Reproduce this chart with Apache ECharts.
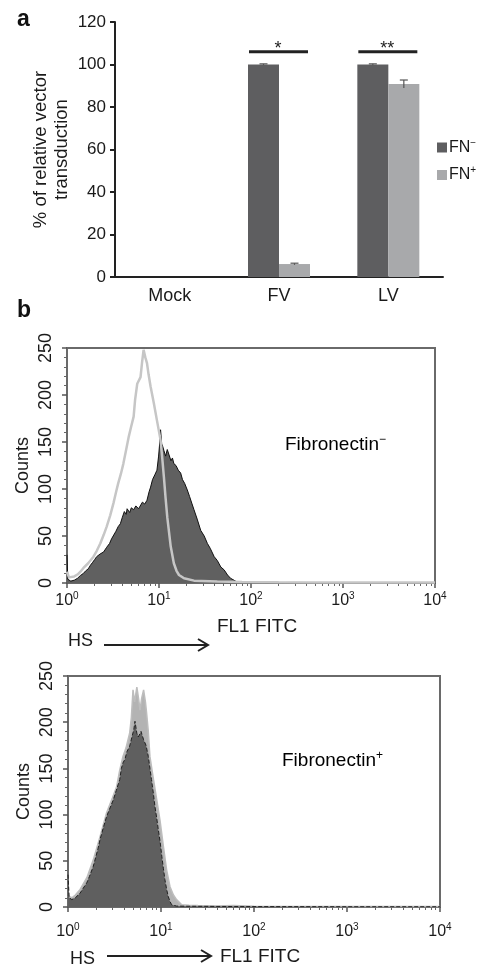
<!DOCTYPE html>
<html>
<head>
<meta charset="utf-8">
<script src="https://cdn.jsdelivr.net/npm/echarts@6/dist/echarts.min.js"></script>
<style>
html, body { margin: 0; padding: 0; background: #fff; }
#chart { width: 479px; height: 968px; }
</style>
</head>
<body>
<div id="chart"></div>
<script>
// panel a: relative vector transduction
var categories = ['Mock', 'FV', 'LV'];
var fnMinus = [0, 100, 100];
var fnPlus = [0, 6.1, 90.8];
var fnMinusErr = [0, 0.3, 0.3];
var fnPlusErr = [0, 0.4, 1.9];
var sigCats = [1, 2];
var sigLevel = [106, 106];
var sigMarks = ['*', '**'];
var yTicksA = [0, 120, 20];

// panel b: FL1 FITC histograms [fluorescence, counts]
var topDark = [
  [1.00, 30], [1.02, 4], [1.1, 2], [1.2, 3], [1.3, 5], [1.4, 8], [1.5, 10], [1.6, 13], [1.7, 15],
  [1.8, 19], [1.9, 22], [2.0, 25], [2.1, 28], [2.2, 27], [2.3, 31], [2.5, 33], [2.7, 38], [2.9, 42],
  [3.05, 47], [3.2, 49], [3.4, 55], [3.6, 60], [3.8, 63], [4.0, 70], [4.2, 76], [4.4, 73], [4.5, 79],
  [4.8, 75], [5.0, 80], [5.3, 78], [5.6, 82], [6.0, 79], [6.3, 81], [6.6, 86], [7.0, 84], [7.4, 88],
  [7.8, 97], [8.1, 102], [8.5, 110], [9.0, 115], [9.5, 120], [9.9, 135], [10.2, 150], [10.4, 163],
  [10.7, 148], [11.0, 145], [11.3, 141], [11.8, 135], [12.3, 142], [12.8, 140], [13.5, 130],
  [14.0, 133], [14.5, 127], [15.3, 125], [16.2, 120], [17.2, 117], [18.0, 110], [19.0, 106],
  [20.3, 99], [21.5, 92], [22.7, 85], [24, 78], [26, 68], [28.4, 56], [31, 50], [33.6, 42], [36, 37],
  [39.8, 28], [43, 24], [47, 17], [51, 14], [55.6, 8.5], [60, 5], [63, 3], [68, 2], [72, 0.8],
  [80, 0.5], [100, 0.8], [150, 0.4], [300, 0.6], [1000, 0.3], [3000, 0.5], [10000, 0.3]
];
var topLight = [
  [1.0, 12], [1.05, 6], [1.1, 5], [1.2, 7], [1.3, 9], [1.4, 12], [1.51, 16], [1.7, 21], [1.94, 28],
  [2.1, 34], [2.3, 42], [2.5, 51], [2.7, 60], [2.95, 72], [3.2, 85], [3.4, 96], [3.6, 106],
  [3.85, 116], [4.1, 127], [4.4, 142], [4.7, 156], [5.0, 167], [5.3, 177], [5.5, 195], [5.8, 212],
  [6.0, 210], [6.3, 219], [6.55, 235], [6.8, 248], [7.1, 240], [7.4, 234], [7.7, 222], [8.1, 209],
  [8.8, 191], [9.5, 173], [10.4, 152], [10.8, 135], [11.3, 113], [11.8, 90], [12.3, 70], [13.4, 39],
  [14.5, 21], [15.5, 13], [16.5, 8.5], [18.7, 5], [24, 2.5], [43, 1.5], [80, 1], [200, 0.7],
  [1000, 0.5], [10000, 0.4]
];
var botDark = [
  [1.0, 35], [1.03, 10], [1.1, 8], [1.2, 10], [1.35, 15], [1.45, 20], [1.59, 26], [1.7, 33],
  [1.87, 44], [2.0, 55], [2.1, 63], [2.21, 73], [2.4, 86], [2.6, 98], [2.8, 106], [3.07, 116],
  [3.3, 126], [3.6, 138], [3.75, 150], [3.9, 156], [4.1, 160], [4.3, 168], [4.6, 174], [4.9, 185],
  [5.1, 192], [5.25, 201], [5.5, 188], [5.7, 184], [6.1, 190], [6.5, 181], [6.9, 175], [7.3, 163],
  [7.6, 150], [7.9, 138], [8.3, 122], [8.6, 109], [9.0, 96], [9.35, 84], [9.8, 70], [10.2, 55],
  [10.6, 42], [11.0, 30], [11.5, 19], [12.0, 11], [12.5, 6], [13.0, 2.5], [14.7, 1], [20, 0.8],
  [60, 0.5], [1000, 0.3], [10000, 0.3]
];
var botLight = [
  [1.0, 12], [1.1, 10], [1.2, 13], [1.35, 19], [1.6, 32], [1.87, 51], [2.21, 76], [2.6, 102],
  [3.0, 118], [3.33, 130], [3.6, 148], [3.9, 163], [4.2, 172], [4.6, 188], [4.8, 205], [5.0, 235],
  [5.2, 222], [5.5, 238], [5.75, 225], [5.95, 213], [6.2, 226], [6.5, 235], [6.8, 222], [7.0, 210],
  [7.3, 190], [7.6, 163], [8.3, 138], [9.0, 116], [9.75, 94], [10.6, 66], [11.5, 40], [12.5, 22],
  [13.6, 13], [14.7, 8], [16.7, 2.5], [20, 2], [25, 1.5], [40, 1], [60, 1.5], [100, 0.7],
  [1000, 0.5], [10000, 0.6]
];
var xRangeB = [1, 10000];
var yTicksB = [0, 250, 50];

var font = 'Liberation Sans, Arial, sans-serif';
var txt = '#1a1a1a';
function supRich(size) {
  return {
    b: { fontSize: size, fontFamily: font, color: txt, lineHeight: size + 3 },
    s: { fontSize: Math.round(size * 0.65), fontFamily: font, color: txt, verticalAlign: 'top', lineHeight: Math.round(size * 0.65) }
  };
}

function errRender(offset) {
  return function (params, api) {
    var i = api.value(0), v = api.value(1), e = api.value(2);
    if (!e) return null;
    var hi = api.coord([i, v + e]);
    var lo = api.coord([i, v - e]);
    var x = hi[0] + offset;
    var st = { stroke: '#555', lineWidth: 1.2 };
    return {
      type: 'group',
      children: [
        { type: 'line', shape: { x1: x, y1: hi[1], x2: x, y2: lo[1] }, style: st },
        { type: 'line', shape: { x1: x - 4, y1: hi[1], x2: x + 4, y2: hi[1] }, style: st }
      ]
    };
  };
}

function sigRender(params, api) {
  var p = api.coord([api.value(0), api.value(1)]);
  return {
    type: 'group',
    children: [
      { type: 'line', shape: { x1: p[0] - 30, y1: p[1], x2: p[0] + 29, y2: p[1] },
        style: { stroke: '#222', lineWidth: 3 } },
      { type: 'text', x: p[0] - 1, y: p[1] - 3,
        style: { text: sigMarks[params.dataIndex], fill: '#222', font: '18px ' + font,
                 textAlign: 'center', textVerticalAlign: 'middle' } }
    ]
  };
}

function histXAxis(gridIndex, margin, nameGap) {
  return {
    type: 'log', logBase: 10, gridIndex: gridIndex, min: xRangeB[0], max: xRangeB[1],
    name: 'FL1 FITC', nameLocation: 'middle', nameGap: nameGap, nameMoveOverlap: false,
    nameTextStyle: { fontSize: 19, fontFamily: font, color: txt, padding: [0, 0, 0, 12] },
    axisLine: { lineStyle: { color: '#6a6a6a', width: 2 } },
    axisTick: { length: 5, lineStyle: { color: '#555', width: 1.5 } },
    minorTick: { show: true, splitNumber: 9, length: 3, lineStyle: { color: '#666' } },
    splitLine: { show: false },
    axisLabel: {
      margin: margin,
      formatter: function (v) { return '{b|10}{s|' + Math.round(Math.log10(v)) + '}'; },
      rich: supRich(16)
    }
  };
}

function histYAxis(gridIndex) {
  return {
    type: 'value', gridIndex: gridIndex, min: yTicksB[0], max: yTicksB[1], interval: yTicksB[2],
    name: 'Counts', nameLocation: 'middle', nameGap: 35, nameMoveOverlap: false,
    nameTextStyle: { fontSize: 18, fontFamily: font, color: txt },
    axisLine: { show: true, lineStyle: { color: '#6a6a6a', width: 2 } },
    axisTick: { show: true, length: 5, lineStyle: { color: '#555', width: 1.5 } },
    minorTick: { show: true, splitNumber: 5, length: 3, lineStyle: { color: '#666' } },
    splitLine: { show: false },
    axisLabel: { rotate: 90, margin: 12, fontSize: 18, fontFamily: font, color: txt }
  };
}

var chart = echarts.init(document.getElementById('chart'), null, { renderer: 'canvas' });
chart.setOption({
  animation: false,
  backgroundColor: '#fff',
  grid: [
    { left: 115, top: 22, width: 328, height: 255 },
    { left: 67, top: 348, width: 368, height: 235, show: true, borderColor: '#6a6a6a', borderWidth: 2, backgroundColor: 'transparent' },
    { left: 68, top: 676, width: 372, height: 231, show: true, borderColor: '#6a6a6a', borderWidth: 2, backgroundColor: 'transparent' }
  ],
  legend: {
    data: ['FN-', 'FN+'],
    orient: 'vertical', left: 437, top: 138, padding: 0,
    itemWidth: 10, itemHeight: 10, itemGap: 10, icon: 'rect',
    formatter: function (n) { return '{b|FN}{s|' + (n === 'FN-' ? '\u2212' : '+') + '}'; },
    textStyle: { rich: supRich(16), padding: [0, 0, 0, -3] }
  },
  xAxis: [
    {
      type: 'category', gridIndex: 0, data: categories,
      axisLine: { lineStyle: { color: '#222', width: 2 } },
      axisTick: { length: 6, lineStyle: { color: '#222', width: 2 } },
      axisLabel: { margin: 10, fontSize: 18, fontFamily: font, color: txt }
    },
    histXAxis(1, 8, 34),
    histXAxis(2, 15, 40)
  ],
  yAxis: [
    {
      type: 'value', gridIndex: 0, min: yTicksA[0], max: yTicksA[1], interval: yTicksA[2],
      name: '% of relative vector\ntransduction', nameLocation: 'middle', nameGap: 43, nameMoveOverlap: false,
      nameTextStyle: { fontSize: 18.5, fontFamily: font, color: txt, lineHeight: 21 },
      axisLine: { show: true, lineStyle: { color: '#222', width: 2 } },
      axisTick: { show: true, length: 5, lineStyle: { color: '#222', width: 2 } },
      splitLine: { show: false },
      axisLabel: { margin: 9, fontSize: 17, fontFamily: font, color: txt }
    },
    histYAxis(1),
    histYAxis(2)
  ],
  series: [
    { name: 'FN-', type: 'bar', xAxisIndex: 0, yAxisIndex: 0, data: fnMinus, barWidth: 31, barGap: '0%',
      itemStyle: { color: '#5e5e60' } },
    { name: 'FN+', type: 'bar', xAxisIndex: 0, yAxisIndex: 0, data: fnPlus, barWidth: 31, barGap: '0%',
      itemStyle: { color: '#a8a9ab' } },
    { type: 'custom', xAxisIndex: 0, yAxisIndex: 0, renderItem: errRender(-15.5), z: 5,
      data: categories.map(function (c, i) { return [i, fnMinus[i], fnMinusErr[i]]; }) },
    { type: 'custom', xAxisIndex: 0, yAxisIndex: 0, renderItem: errRender(15.5), z: 5,
      data: categories.map(function (c, i) { return [i, fnPlus[i], fnPlusErr[i]]; }) },
    { type: 'custom', xAxisIndex: 0, yAxisIndex: 0, renderItem: sigRender, z: 5,
      data: sigCats.map(function (c, i) { return [c, sigLevel[i]]; }) },

    { type: 'line', xAxisIndex: 1, yAxisIndex: 1, data: topDark, showSymbol: false, z: 2,
      lineStyle: { color: '#111', width: 1 }, areaStyle: { color: '#606060', opacity: 1 } },
    { type: 'line', xAxisIndex: 1, yAxisIndex: 1, data: topLight, showSymbol: false, z: 3,
      lineStyle: { color: '#c6c6c6', width: 2.5 } },

    { type: 'line', xAxisIndex: 2, yAxisIndex: 2, data: botLight, showSymbol: false, z: 2,
      lineStyle: { color: '#bdbdbd', width: 1.5 }, areaStyle: { color: '#b3b3b3', opacity: 1 } },
    { type: 'line', xAxisIndex: 2, yAxisIndex: 2, data: botDark, showSymbol: false, z: 3,
      lineStyle: { color: '#222', width: 1, type: 'dashed' }, areaStyle: { color: '#5f5f5f', opacity: 1 } }
  ],
  graphic: [
    { type: 'text', left: 17, top: 8, style: { text: 'a', font: 'bold 23px ' + font, fill: '#111' } },
    { type: 'text', left: 17, top: 299, style: { text: 'b', font: 'bold 23px ' + font, fill: '#111' } },
    { type: 'text', left: 285, top: 434, style: { text: '{b|Fibronectin}{s|\u2212}', rich: supRich(19) } },
    { type: 'text', left: 282, top: 750, style: { text: '{b|Fibronectin}{s|+}', rich: supRich(19) } },
    { type: 'text', left: 68, top: 632, style: { text: 'HS', font: '18px ' + font, fill: txt } },
    { type: 'line', shape: { x1: 104, y1: 645, x2: 208, y2: 645 }, style: { stroke: '#222', lineWidth: 2 } },
    { type: 'polyline', shape: { points: [[198, 639], [208, 645], [198, 651]] }, style: { stroke: '#222', lineWidth: 2, fill: null } },
    { type: 'text', left: 70, top: 950, style: { text: 'HS', font: '18px ' + font, fill: txt } },
    { type: 'line', shape: { x1: 107, y1: 956, x2: 211, y2: 956 }, style: { stroke: '#222', lineWidth: 2 } },
    { type: 'polyline', shape: { points: [[201, 950], [211, 956], [201, 962]] }, style: { stroke: '#222', lineWidth: 2, fill: null } }
  ]
});
</script>
</body>
</html>
